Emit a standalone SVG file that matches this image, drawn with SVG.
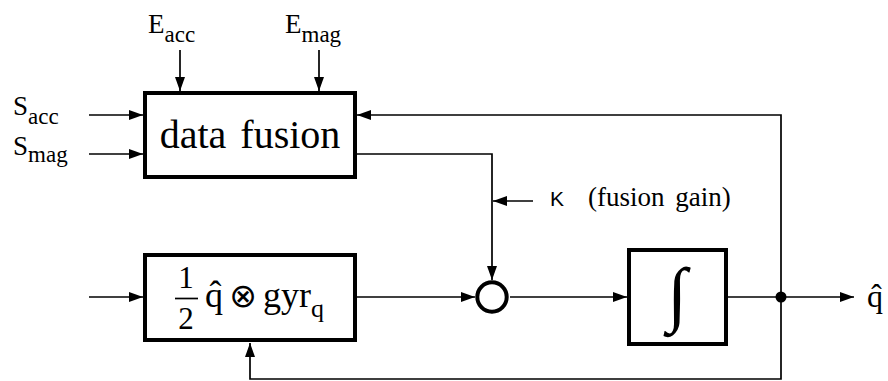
<svg xmlns="http://www.w3.org/2000/svg" width="888" height="381" viewBox="0 0 888 381">
<style>
.box{fill:#fff;stroke:#000;stroke-width:4}
.ln{fill:none;stroke:#000;stroke-width:1.7}
.t{font-family:"Liberation Serif","Times New Roman",serif;fill:#000}
.s{font-family:"Liberation Sans",Arial,sans-serif;fill:#000}
</style>
<defs>
<marker id="ah" markerUnits="userSpaceOnUse" markerWidth="14" markerHeight="10" refX="14" refY="5" orient="auto">
<path d="M0,0 L14,5 L0,10 z" fill="#000"/>
</marker>
</defs>
<g id="connectors">
<path class="ln" d="M180,50 V91" marker-end="url(#ah)"/>
<path class="ln" d="M319,50 V91" marker-end="url(#ah)"/>
<path class="ln" d="M89,115 H143" marker-end="url(#ah)"/>
<path class="ln" d="M89,154 H143" marker-end="url(#ah)"/>
<path class="ln" d="M781,297 V115 H357" marker-end="url(#ah)"/>
<path class="ln" d="M781,297 V379 H250 V343" marker-end="url(#ah)"/>
<path class="ln" d="M357,154 H492 V280" marker-end="url(#ah)"/>
<path class="ln" d="M533,201 H493" marker-end="url(#ah)"/>
<path class="ln" d="M89,297 H143" marker-end="url(#ah)"/>
<path class="ln" d="M357,297 H475" marker-end="url(#ah)"/>
<path class="ln" d="M510,297 H627" marker-end="url(#ah)"/>
<path class="ln" d="M728,297 H854" marker-end="url(#ah)"/>
<circle cx="781" cy="297" r="5.5" fill="#000"/>
</g>
<g id="labels">
<text class="t" x="148" y="33" font-size="27">E<tspan font-size="23" dy="9">acc</tspan></text>
<text class="t" x="285" y="33" font-size="27">E<tspan font-size="23" dy="9">mag</tspan></text>
<text class="t" x="13" y="115" font-size="27">S<tspan font-size="23" dy="9">acc</tspan></text>
<text class="t" x="13" y="155" font-size="27">S<tspan font-size="23" dy="7">mag</tspan></text>
<text class="s" x="550" y="206" font-size="21">K</text>
<text class="t" x="588" y="206" font-size="27" word-spacing="4">(fusion gain)</text>
<text class="t" x="867" y="307" font-size="32">q̂</text>
</g>
<g id="data-fusion">
<rect class="box" x="145" y="93" width="210" height="84"/>
<text class="t" x="250" y="148" font-size="40" text-anchor="middle" word-spacing="4">data fusion</text>
</g>
<g id="quaternion-derivative">
<rect class="box" x="145" y="255" width="210" height="85"/>
<text class="t" x="186" y="288" font-size="31" text-anchor="middle">1</text>
<line x1="175" y1="298.5" x2="198" y2="298.5" stroke="#000" stroke-width="1.7"/>
<text class="t" x="186" y="329" font-size="31" text-anchor="middle">2</text>
<text class="t" x="205" y="307" font-size="36">q̂</text>
<text x="243" y="307" font-size="33" text-anchor="middle" font-family="DejaVu Sans, sans-serif">⊗</text>
<text class="t" x="263" y="307" font-size="36">gyr<tspan font-size="26" dy="10">q</tspan></text>
</g>
<g id="sum">
<circle cx="492" cy="297" r="14.7" fill="#fff" stroke="#000" stroke-width="4"/>
</g>
<g id="integrator">
<rect class="box" x="629" y="250" width="97" height="94"/>
<text class="t" x="677" y="318" font-size="72" text-anchor="middle">∫</text>
</g>
</svg>
